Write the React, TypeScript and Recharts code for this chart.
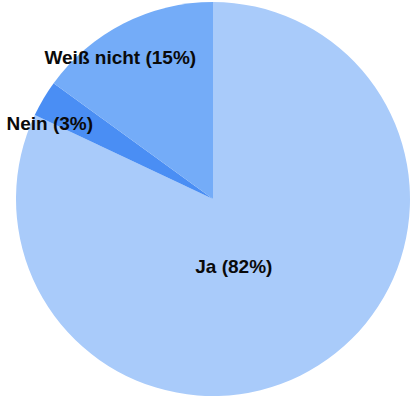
import React from "react";
import { PieChart, Pie, Cell } from "recharts";

const categories = ["Ja", "Nein", "Weiß nicht"];
const values = [82, 3, 15];
const colors = ["#a9cbfa", "#4a8ef4", "#74acf8"];

const data = categories.map((name, i) => ({ name, value: values[i] }));

const RADIAN = Math.PI / 180;

const renderLabel = (props: any) => {
  const { cx, cy, midAngle, outerRadius, percent, index } = props;
  const frac = percent > 0.5 ? 0.33 : 0.88;
  const r = outerRadius * frac;
  const x = cx + r * Math.cos(-midAngle * RADIAN) - 14;
  const y = cy + r * Math.sin(-midAngle * RADIAN) + 13;
  return (
    <text
      x={x}
      y={y}
      fill="#0a0a0a"
      textAnchor="middle"
      dominantBaseline="central"
      fontFamily="'Liberation Sans', Arial, Helvetica, sans-serif"
      fontWeight="bold"
      fontSize={19}
    >
      {`${categories[index]} (${values[index]}%)`}
    </text>
  );
};

export default function App() {
  return (
    <div style={{ position: "absolute", left: 0, top: 0, width: 413, height: 400, background: "#fff" }}>
      <PieChart width={413} height={400} margin={{ top: 0, right: 0, bottom: 0, left: 0 }}>
        <Pie
          data={data}
          dataKey="value"
          nameKey="name"
          cx={213}
          cy={199}
          outerRadius={197}
          startAngle={90}
          endAngle={-270}
          stroke="none"
          label={renderLabel}
          labelLine={false}
          isAnimationActive={false}
        >
          {data.map((d, i) => (
            <Cell key={d.name} fill={colors[i]} />
          ))}
        </Pie>
      </PieChart>
    </div>
  );
}
